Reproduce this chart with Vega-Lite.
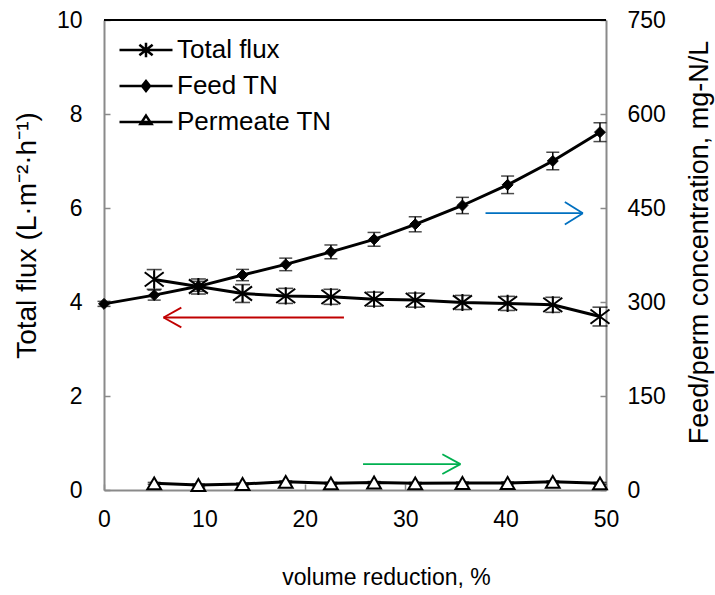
{
  "$schema": "https://vega.github.io/schema/vega-lite/v6.json",
  "autosize": {"type": "none"},
  "padding": {"left": 104, "top": 20, "right": 109, "bottom": 105},
  "width": 502,
  "height": 470,
  "config": {
    "view": {"stroke": null},
    "font": "Liberation Sans",
    "axis": {
      "domainColor": "#8a8a8a", "domainWidth": 2,
      "tickColor": "#8a8a8a", "tickWidth": 1.5, "tickSize": -6,
      "labelFont": "Liberation Sans", "labelFontSize": 23, "labelColor": "black",
      "titleFont": "Liberation Sans", "titleFontSize": 23, "titleColor": "black", "titleFontWeight": "normal",
      "grid": false
    },
    "legend": {
      "title": null, "orient": "none", "legendX": 14, "legendY": 12, "padding": 0,
      "symbolSize": 2809, "clipHeight": 36, "rowPadding": 0,
      "symbolStrokeWidth": 2.5, "symbolOpacity": 1,
      "labelFont": "Liberation Sans", "labelFontSize": 26, "labelColor": "black", "labelOffset": 3
    }
  },
  "datasets": {
    "flux": [
      {"series": "Total flux", "x": 5, "y": 4.48, "lo": 4.27, "hi": 4.69},
      {"series": "Total flux", "x": 9.4, "y": 4.33, "lo": 4.17, "hi": 4.49},
      {"series": "Total flux", "x": 13.8, "y": 4.18, "lo": 3.99, "hi": 4.37},
      {"series": "Total flux", "x": 18.1, "y": 4.13, "lo": 3.97, "hi": 4.29},
      {"series": "Total flux", "x": 22.6, "y": 4.11, "lo": 3.95, "hi": 4.27},
      {"series": "Total flux", "x": 26.9, "y": 4.06, "lo": 3.91, "hi": 4.21},
      {"series": "Total flux", "x": 31, "y": 4.04, "lo": 3.89, "hi": 4.19},
      {"series": "Total flux", "x": 35.7, "y": 3.99, "lo": 3.84, "hi": 4.14},
      {"series": "Total flux", "x": 40.2, "y": 3.97, "lo": 3.82, "hi": 4.12},
      {"series": "Total flux", "x": 44.7, "y": 3.94, "lo": 3.78, "hi": 4.10},
      {"series": "Total flux", "x": 49.4, "y": 3.69, "lo": 3.49, "hi": 3.89}
    ],
    "tn": [
      {"series": "Feed TN", "x": 0, "y": 297, "lo": 293, "hi": 301},
      {"series": "Feed TN", "x": 5, "y": 311, "lo": 303, "hi": 319},
      {"series": "Feed TN", "x": 9.4, "y": 325, "lo": 317, "hi": 333},
      {"series": "Feed TN", "x": 13.8, "y": 343, "lo": 334, "hi": 352},
      {"series": "Feed TN", "x": 18.1, "y": 360, "lo": 350, "hi": 370},
      {"series": "Feed TN", "x": 22.6, "y": 380, "lo": 369, "hi": 391},
      {"series": "Feed TN", "x": 26.9, "y": 400, "lo": 389, "hi": 411},
      {"series": "Feed TN", "x": 31, "y": 424, "lo": 412, "hi": 436},
      {"series": "Feed TN", "x": 35.7, "y": 454, "lo": 441, "hi": 467},
      {"series": "Feed TN", "x": 40.2, "y": 487, "lo": 473, "hi": 501},
      {"series": "Feed TN", "x": 44.7, "y": 525, "lo": 511, "hi": 539},
      {"series": "Feed TN", "x": 49.4, "y": 571, "lo": 556, "hi": 586},
      {"series": "Permeate TN", "x": 5, "y": 10.6, "lo": 9.1, "hi": 12.1},
      {"series": "Permeate TN", "x": 9.4, "y": 8, "lo": 6.5, "hi": 9.5},
      {"series": "Permeate TN", "x": 13.8, "y": 9.6, "lo": 8.1, "hi": 11.1},
      {"series": "Permeate TN", "x": 18.1, "y": 13, "lo": 11.5, "hi": 14.5},
      {"series": "Permeate TN", "x": 22.6, "y": 10.6, "lo": 9.1, "hi": 12.1},
      {"series": "Permeate TN", "x": 26.9, "y": 12, "lo": 10.5, "hi": 13.5},
      {"series": "Permeate TN", "x": 31, "y": 10.6, "lo": 9.1, "hi": 12.1},
      {"series": "Permeate TN", "x": 35.7, "y": 11.3, "lo": 9.8, "hi": 12.8},
      {"series": "Permeate TN", "x": 40.2, "y": 11.3, "lo": 9.8, "hi": 12.8},
      {"series": "Permeate TN", "x": 44.7, "y": 13, "lo": 11.5, "hi": 14.5},
      {"series": "Permeate TN", "x": 49.4, "y": 10.6, "lo": 9.1, "hi": 12.1}
    ],
    "legend": [
      {"series": "Total flux"},
      {"series": "Feed TN"},
      {"series": "Permeate TN"}
    ],
    "arrows": [
      {"arrow": "red", "x": 23.9, "y": 3.67, "x2": 5.93, "y2": 3.67},
      {"arrow": "red", "x": 5.93, "y": 3.67, "x2": 7.7, "y2": 3.88},
      {"arrow": "red", "x": 5.93, "y": 3.67, "x2": 7.7, "y2": 3.46},
      {"arrow": "blue", "x": 38.0, "y": 5.89, "x2": 47.7, "y2": 5.89},
      {"arrow": "blue", "x": 47.7, "y": 5.89, "x2": 45.9, "y2": 6.13},
      {"arrow": "blue", "x": 47.7, "y": 5.89, "x2": 45.9, "y2": 5.65},
      {"arrow": "green", "x": 25.8, "y": 0.55, "x2": 35.5, "y2": 0.55},
      {"arrow": "green", "x": 35.5, "y": 0.55, "x2": 33.7, "y2": 0.76},
      {"arrow": "green", "x": 35.5, "y": 0.55, "x2": 33.7, "y2": 0.34}
    ]
  },
  "layer": [
    {
      "layer": [
        {
          "data": {"name": "arrows"},
          "mark": {"type": "rule", "strokeWidth": 1.8},
          "encoding": {
            "x": {"field": "x", "type": "quantitative", "title": "volume reduction, %"},
            "y": {"field": "y", "type": "quantitative", "title": "Total flux (L·m⁻²·h⁻¹)"},
            "x2": {"field": "x2"},
            "y2": {"field": "y2"},
            "color": {"field": "arrow", "type": "nominal", "legend": null,
              "scale": {"domain": ["red", "blue", "green"], "range": ["#C00000", "#0070C0", "#00B050"]}}
          }
        },
        {
          "data": {"name": "flux"},
          "mark": {"type": "rule", "color": "black", "strokeWidth": 2},
          "encoding": {
            "y": {"datum": 10, "type": "quantitative", "title": "Total flux (L·m⁻²·h⁻¹)"}
          }
        },
        {
          "data": {"name": "flux"},
          "mark": {"type": "line", "color": "black", "strokeWidth": 3},
          "encoding": {
            "x": {"field": "x", "type": "quantitative", "title": "volume reduction, %",
              "scale": {"domain": [0, 50], "nice": false},
              "axis": {"values": [0, 10, 20, 30, 40, 50], "labelPadding": 24, "labelFlush": false,
                "titleX": 282, "titleY": 87, "titleBaseline": "middle", "titleAlign": "center"}},
            "y": {"field": "y", "type": "quantitative", "title": "Total flux (L·m⁻²·h⁻¹)",
              "scale": {"domain": [0, 10], "nice": false},
              "axis": {"orient": "left", "values": [0, 2, 4, 6, 8, 10], "labelPadding": 28,
                "titleX": -77, "titleY": 215, "titleFontSize": 28,
                "titleBaseline": "middle", "titleAlign": "center", "titleAngle": -90}}
          }
        },
        {
          "data": {"name": "flux"},
          "mark": {"type": "rule", "color": "black", "strokeWidth": 1.5},
          "encoding": {
            "x": {"field": "x", "type": "quantitative", "title": "volume reduction, %"},
            "y": {"field": "lo", "type": "quantitative", "title": "Total flux (L·m⁻²·h⁻¹)"},
            "y2": {"field": "hi"}
          }
        },
        {
          "data": {"name": "flux"},
          "mark": {"type": "tick", "color": "black", "orient": "horizontal", "size": 15, "thickness": 1.6},
          "encoding": {
            "x": {"field": "x", "type": "quantitative", "title": "volume reduction, %"},
            "y": {"field": "lo", "type": "quantitative", "title": "Total flux (L·m⁻²·h⁻¹)"}
          }
        },
        {
          "data": {"name": "flux"},
          "mark": {"type": "tick", "color": "black", "orient": "horizontal", "size": 15, "thickness": 1.6},
          "encoding": {
            "x": {"field": "x", "type": "quantitative", "title": "volume reduction, %"},
            "y": {"field": "hi", "type": "quantitative", "title": "Total flux (L·m⁻²·h⁻¹)"}
          }
        },
        {
          "data": {"name": "flux"},
          "mark": {"type": "point", "shape": "M-1,-0.75L1,0.75M-1,0.75L1,-0.75M0,-0.9V0.9", "filled": false, "stroke": "black", "strokeWidth": 2, "size": 361, "opacity": 1},
          "encoding": {
            "x": {"field": "x", "type": "quantitative", "title": "volume reduction, %"},
            "y": {"field": "y", "type": "quantitative", "title": "Total flux (L·m⁻²·h⁻¹)"}
          }
        },
        {
          "data": {"name": "legend"},
          "mark": {"type": "point", "filled": false, "clip": true},
          "encoding": {
            "x": {"datum": -5, "type": "quantitative", "title": "volume reduction, %"},
            "y": {"datum": 5, "type": "quantitative", "title": "Total flux (L·m⁻²·h⁻¹)"},
            "shape": {"field": "series", "type": "nominal",
              "scale": {"domain": ["Total flux", "Feed TN", "Permeate TN"],
                "range": [
                  "M-1,0L1,0M-0.25,-0.2L0.25,0.2M-0.25,0.2L0.25,-0.2M0,-0.27L0,0.27",
                  "M-1,0L1,0M0,-0.19L0.15,0L0,0.19L-0.15,0Z",
                  "M-1,0L1,0M0,-0.24L0.21,0.08L-0.21,0.08Z"]}},
            "fill": {"field": "series", "type": "nominal",
              "scale": {"domain": ["Total flux", "Feed TN", "Permeate TN"], "range": ["transparent", "black", "white"]}},
            "stroke": {"field": "series", "type": "nominal",
              "scale": {"domain": ["Total flux", "Feed TN", "Permeate TN"], "range": ["black", "black", "black"]}}
          }
        }
      ]
    },
    {
      "layer": [
        {
          "data": {"name": "tn"},
          "mark": {"type": "line", "color": "black", "strokeWidth": 3},
          "encoding": {
            "x": {"field": "x", "type": "quantitative", "title": "volume reduction, %"},
            "y": {"field": "y", "type": "quantitative", "title": "Feed/perm concentration, mg-N/L",
              "scale": {"domain": [0, 750], "nice": false},
              "axis": {"orient": "right", "values": [0, 150, 300, 450, 600, 750], "labelPadding": 27,
                "titleX": 93, "titleY": 222, "titleFontSize": 27,
                "titleBaseline": "middle", "titleAlign": "center", "titleAngle": -90}},
            "detail": {"field": "series", "type": "nominal"}
          }
        },
        {
          "data": {"name": "tn"},
          "mark": {"type": "rule", "color": "black", "strokeWidth": 1.5},
          "encoding": {
            "x": {"field": "x", "type": "quantitative", "title": "volume reduction, %"},
            "y": {"field": "lo", "type": "quantitative", "title": "Feed/perm concentration, mg-N/L"},
            "y2": {"field": "hi"}
          }
        },
        {
          "data": {"name": "tn"},
          "mark": {"type": "tick", "color": "black", "orient": "horizontal", "size": 13, "thickness": 1.5},
          "encoding": {
            "x": {"field": "x", "type": "quantitative", "title": "volume reduction, %"},
            "y": {"field": "lo", "type": "quantitative", "title": "Feed/perm concentration, mg-N/L"}
          }
        },
        {
          "data": {"name": "tn"},
          "mark": {"type": "tick", "color": "black", "orient": "horizontal", "size": 13, "thickness": 1.5},
          "encoding": {
            "x": {"field": "x", "type": "quantitative", "title": "volume reduction, %"},
            "y": {"field": "hi", "type": "quantitative", "title": "Feed/perm concentration, mg-N/L"}
          }
        },
        {
          "data": {"name": "tn"},
          "transform": [{"filter": "datum.series === 'Feed TN'"}],
          "mark": {"type": "point", "shape": "diamond", "filled": true, "fill": "black", "stroke": "black", "strokeWidth": 1, "size": 120, "opacity": 1},
          "encoding": {
            "x": {"field": "x", "type": "quantitative", "title": "volume reduction, %"},
            "y": {"field": "y", "type": "quantitative", "title": "Feed/perm concentration, mg-N/L"}
          }
        },
        {
          "data": {"name": "tn"},
          "transform": [{"filter": "datum.series === 'Permeate TN'"}],
          "mark": {"type": "point", "shape": "triangle-up", "filled": true, "fill": "white", "stroke": "black", "strokeWidth": 2, "size": 190, "opacity": 1},
          "encoding": {
            "x": {"field": "x", "type": "quantitative", "title": "volume reduction, %"},
            "y": {"field": "y", "type": "quantitative", "title": "Feed/perm concentration, mg-N/L"}
          }
        }
      ]
    }
  ],
  "resolve": {"scale": {"y": "independent"}}
}
